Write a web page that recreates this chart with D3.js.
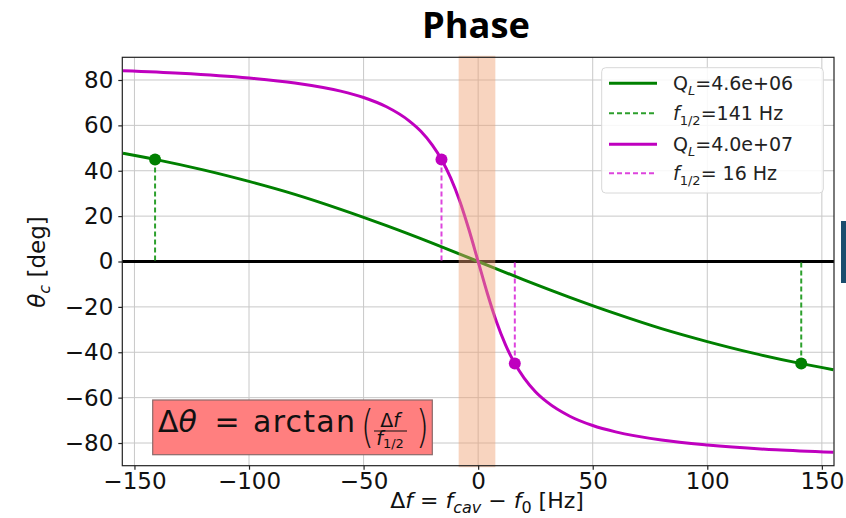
<!DOCTYPE html>
<html>
<head>
<meta charset="utf-8">
<script src="https://cdn.jsdelivr.net/npm/d3@7"></script>
<style>
  html, body { margin: 0; padding: 0; background: #fff; }
  svg { display: block; }
  text { font-family: "DejaVu Sans", sans-serif; }
</style>
</head>
<body>
<svg id="chart" width="846" height="518"></svg>
<script>
// ---------------- data ----------------
const xTicks = [-150, -100, -50, 0, 50, 100, 150];
const yTicks = [-80, -60, -40, -20, 0, 20, 40, 60, 80];

// Green series (Q_L = 4.6e+06, f_1/2 = 141 Hz)
const greenFreq  = [-155, -140, -120, -100, -80, -60, -40, -20, 0, 20, 40, 60, 80, 100, 120, 140, 155];
const greenPhase = [47.7, 44.8, 40.4, 35.3, 29.6, 23.0, 15.8, 8.1, 0, -8.1, -15.8, -23.0, -29.6, -35.3, -40.4, -44.8, -47.7];

// Magenta series (Q_L = 4.0e+07, f_1/2 = 16 Hz)
const magentaFreq  = [-155, -130, -100, -80, -60, -50, -40, -30, -25, -20, -16, -12, -8, -4, 0, 4, 8, 12, 16, 20, 25, 30, 40, 50, 60, 80, 100, 130, 155];
const magentaPhase = [84.1, 83.0, 80.9, 78.7, 75.1, 72.3, 68.2, 61.9, 57.4, 51.3, 45.0, 36.9, 26.6, 14.0, 0, -14.0, -26.6, -36.9, -45.0, -51.3, -57.4, -61.9, -68.2, -72.3, -75.1, -78.7, -80.9, -83.0, -84.1];

// half-bandwidth markers
const greenMarkers   = [[-141, 45], [141, -45]];
const magentaMarkers = [[-16, 45], [16, -45]];

// highlighted band
const bandRange = [-8.5, 7.5];

const legendLabels = [
  { main: "Q", sub: "L", rest: "=4.6e+06" },
  { main: "f", sub: "1/2", rest: "=141 Hz" },
  { main: "Q", sub: "L", rest: "=4.0e+07" },
  { main: "f", sub: "1/2", rest: "= 16 Hz" }
];

// ---------------- layout ----------------
const svg = d3.select("#chart");
const L = 122.3, R = 834, T = 57.3, B = 465.7;
const x = d3.scaleLinear().domain([-155.3, 155.3]).range([L, R]);
const y = d3.scaleLinear().domain([-90, 90]).range([B, T]);

const GREEN = "#008000", GREEN_D = "#2ca02c";
const MAG = "#bf00bf", MAG_D = "#dd44dd";

svg.append("defs").append("clipPath").attr("id", "clip")
  .append("rect").attr("x", L).attr("y", T).attr("width", R - L).attr("height", B - T);

// gridlines
const grid = svg.append("g");
grid.selectAll(".gx").data(xTicks).enter().append("line")
  .attr("x1", d => x(d)).attr("x2", d => x(d)).attr("y1", T).attr("y2", B)
  .attr("stroke", "#c8c8c8").attr("stroke-width", 1);
grid.selectAll(".gy").data(yTicks).enter().append("line")
  .attr("x1", L).attr("x2", R).attr("y1", d => y(d)).attr("y2", d => y(d))
  .attr("stroke", "#c8c8c8").attr("stroke-width", 1);

// zero line
svg.append("line").attr("x1", L).attr("x2", R).attr("y1", y(0)).attr("y2", y(0))
  .attr("stroke", "#000").attr("stroke-width", 3);

const plot = svg.append("g").attr("clip-path", "url(#clip)");

// dashed drop lines
function drops(markers, color) {
  plot.selectAll(null).data(markers).enter().append("line")
    .attr("x1", d => x(d[0])).attr("x2", d => x(d[0]))
    .attr("y1", d => y(d[1])).attr("y2", y(0))
    .attr("stroke", color).attr("stroke-width", 2).attr("stroke-dasharray", "5,3");
}
drops(greenMarkers, GREEN_D);
drops(magentaMarkers, MAG_D);

const line = d3.line().x(d => x(d[0])).y(d => y(d[1])).curve(d3.curveMonotoneX);
plot.append("path").datum(d3.zip(greenFreq, greenPhase)).attr("d", line)
  .attr("fill", "none").attr("stroke", GREEN).attr("stroke-width", 3);
plot.append("path").datum(d3.zip(magentaFreq, magentaPhase)).attr("d", line)
  .attr("fill", "none").attr("stroke", MAG).attr("stroke-width", 3);

plot.selectAll(null).data(greenMarkers).enter().append("circle")
  .attr("cx", d => x(d[0])).attr("cy", d => y(d[1])).attr("r", 6).attr("fill", GREEN);
plot.selectAll(null).data(magentaMarkers).enter().append("circle")
  .attr("cx", d => x(d[0])).attr("cy", d => y(d[1])).attr("r", 6).attr("fill", MAG);

// band
svg.append("rect")
  .attr("x", x(bandRange[0])).attr("width", x(bandRange[1]) - x(bandRange[0]))
  .attr("y", T - 1.5).attr("height", B - T + 3)
  .attr("fill", "#f0a070").attr("opacity", 0.45);

// spines
svg.append("rect").attr("x", L).attr("y", T).attr("width", R - L).attr("height", B - T)
  .attr("fill", "none").attr("stroke", "#222").attr("stroke-width", 1.2);

// axes
const fmt = d => (d < 0 ? "\u2212" + Math.abs(d) : String(d));
const xAxis = svg.append("g").attr("transform", `translate(0,${B})`)
  .call(d3.axisBottom(x).tickValues(xTicks).tickFormat(fmt).tickSize(4).tickPadding(3));
const yAxis = svg.append("g").attr("transform", `translate(${L},0)`)
  .call(d3.axisLeft(y).tickValues(yTicks).tickFormat(fmt).tickSize(4).tickPadding(5));
[xAxis, yAxis].forEach(a => {
  a.select(".domain").remove();
  a.selectAll(".tick line").attr("stroke", "#222").attr("stroke-width", 1.2);
  a.selectAll(".tick text").attr("fill", "#111").style("font-size", "23px")
    .style("font-family", "DejaVu Sans, sans-serif");
});

// title
svg.append("text").attr("x", 476).attr("y", 38).attr("text-anchor", "middle")
  .style("font-family", "'Open Sans', sans-serif").style("font-weight", 700)
  .style("font-size", "35px").attr("fill", "#000")
  .attr("textLength", 108).attr("lengthAdjust", "spacingAndGlyphs").text("Phase");

// y label
const yl = svg.append("text").attr("transform", "translate(45,262) rotate(-90)")
  .attr("text-anchor", "middle").style("font-size", "23px").attr("fill", "#111");
yl.append("tspan").style("font-style", "italic").text("θ");
yl.append("tspan").style("font-style", "italic").style("font-size", "16px").attr("dy", 5).text("c");
yl.append("tspan").attr("dy", -5).text(" [deg]");

// x label
const xl = svg.append("text").attr("x", 487).attr("y", 508).attr("text-anchor", "middle")
  .style("font-size", "22px").attr("fill", "#111");
xl.append("tspan").text("Δ");
xl.append("tspan").style("font-style", "italic").text("f");
xl.append("tspan").text(" = ");
xl.append("tspan").style("font-style", "italic").text("f");
xl.append("tspan").style("font-style", "italic").style("font-size", "16px").attr("dy", 5).text("cav");
xl.append("tspan").attr("dy", -5).text(" \u2212 ");
xl.append("tspan").style("font-style", "italic").text("f");
xl.append("tspan").style("font-size", "16px").attr("dy", 5).text("0");
xl.append("tspan").attr("dy", -5).text(" [Hz]");

// legend
const lg = svg.append("g");
lg.append("rect").attr("x", 601.7).attr("y", 67.7).attr("width", 221.6).attr("height", 125.3)
  .attr("rx", 4).attr("fill", "#fff").attr("fill-opacity", 0.85)
  .attr("stroke", "#d8d8d8").attr("stroke-width", 1);
const legendY = [83.3, 113.3, 144.3, 173.3];
const legendStyle = [
  { c: GREEN, dash: null, w: 3 }, { c: GREEN_D, dash: "5,3", w: 2 },
  { c: MAG, dash: null, w: 3 }, { c: MAG_D, dash: "5,3", w: 2 }
];
legendLabels.forEach((lab, i) => {
  lg.append("line").attr("x1", 609).attr("x2", 657).attr("y1", legendY[i]).attr("y2", legendY[i])
    .attr("stroke", legendStyle[i].c).attr("stroke-width", legendStyle[i].w)
    .attr("stroke-dasharray", legendStyle[i].dash);
  const t = lg.append("text").attr("x", 673).attr("y", legendY[i] + 7)
    .style("font-size", "19px").attr("fill", "#222");
  t.append("tspan").style("font-style", lab.main === "f" ? "italic" : "normal").text(lab.main);
  t.append("tspan").style("font-size", "13px").style("font-style", lab.sub === "L" ? "italic" : "normal")
    .attr("dy", 5).text(lab.sub);
  t.append("tspan").attr("dy", -5).text(lab.rest);
});

// formula box
const fb = svg.append("g");
fb.append("rect").attr("x", 152.7).attr("y", 400).attr("width", 279.6).attr("height", 54.7)
  .attr("fill", "#ff7f7f").attr("stroke", "#8a6a6a").attr("stroke-width", 1.2);
const f1 = fb.append("text").attr("x", 158).attr("y", 432).style("font-size", "30px").attr("fill", "#111");
f1.append("tspan").text("Δ");
f1.append("tspan").style("font-style", "italic").text("θ");
fb.append("text").attr("x", 227).attr("y", 432).attr("text-anchor", "middle")
  .style("font-size", "30px").attr("fill", "#111").text("=");
fb.append("text").attr("x", 253).attr("y", 432).style("font-size", "30px").attr("fill", "#111")
  .attr("textLength", 102).text("arctan");
fb.append("text").attr("x", 361).attr("y", 442).style("font-size", "44px").style("font-weight", 300)
  .attr("fill", "#111").attr("transform", "translate(361,442) scale(0.75,1) translate(-361,-442)").text("(");
fb.append("text").attr("x", 416).attr("y", 442).style("font-size", "44px").style("font-weight", 300)
  .attr("fill", "#111").attr("transform", "translate(416,442) scale(0.75,1) translate(-416,-442)").text(")");
const num = fb.append("text").attr("x", 390).attr("y", 427).attr("text-anchor", "middle")
  .style("font-size", "19px").attr("fill", "#111");
num.append("tspan").text("Δ");
num.append("tspan").style("font-style", "italic").text("f");
fb.append("line").attr("x1", 374).attr("x2", 407).attr("y1", 431).attr("y2", 431)
  .attr("stroke", "#111").attr("stroke-width", 1);
const den = fb.append("text").attr("x", 390).attr("y", 445).attr("text-anchor", "middle")
  .style("font-size", "19px").attr("fill", "#111");
den.append("tspan").style("font-style", "italic").text("f");
den.append("tspan").style("font-size", "13px").attr("dy", 3).text("1/2");

// blue edge bar (slide decoration)
svg.append("rect").attr("x", 841).attr("y", 221).attr("width", 5).attr("height", 62).attr("fill", "#1a4d6e");
</script>
</body>
</html>
